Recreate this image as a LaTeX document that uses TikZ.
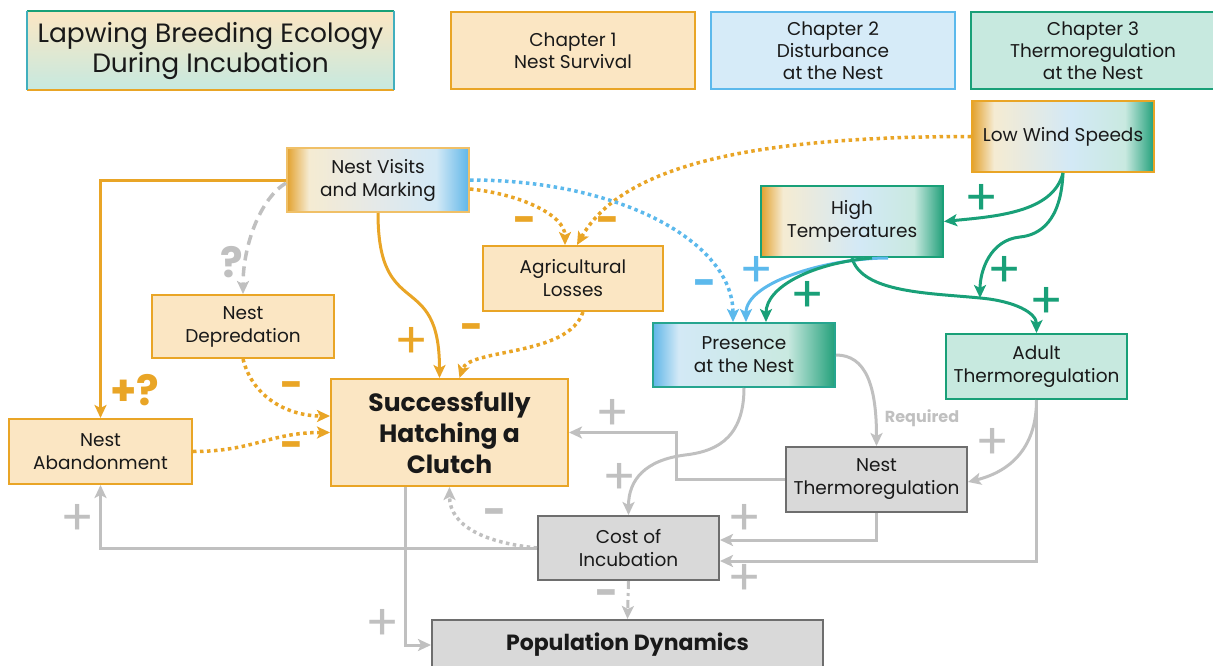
\documentclass[tikz,border=0pt]{standalone}
\usepackage{fontspec}
\setmainfont{Poppins}
\usetikzlibrary{arrows.meta,calc}
\definecolor{cO}{HTML}{E9A526}
\definecolor{cOl}{HTML}{FBE6C3}
\definecolor{cB}{HTML}{5CB9EC}
\definecolor{cBl}{HTML}{D6EBF8}
\definecolor{cG}{HTML}{19A078}
\definecolor{cGl}{HTML}{C7E9DF}
\definecolor{cGr}{HTML}{C0C0C0}
\definecolor{cGf}{HTML}{D9D9D9}
\definecolor{cGd}{HTML}{6E6E6E}
\definecolor{shO}{HTML}{E3A22F}
\definecolor{shCr}{HTML}{F5EBD2}
\definecolor{shMid}{HTML}{E4E9E9}
\definecolor{shLB}{HTML}{D3E9F6}
\definecolor{shB}{HTML}{5FB6E8}
\definecolor{shLG}{HTML}{C9E9E0}
\definecolor{shG}{HTML}{22A07A}
\pgfdeclarehorizontalshading{nvshade}{100bp}{color(0bp)=(shO); color(25bp)=(shO); color(31bp)=(shCr); color(50bp)=(shMid); color(66bp)=(shLB); color(75bp)=(shB); color(100bp)=(shB)}
\pgfdeclarehorizontalshading{lwshade}{100bp}{color(0bp)=(shO); color(25bp)=(shO); color(31bp)=(shCr); color(52bp)=(shLB); color(67bp)=(shLG); color(75bp)=(shG); color(100bp)=(shG)}
\pgfdeclarehorizontalshading{prshade}{100bp}{color(0bp)=(shB); color(25bp)=(shB); color(32bp)=(shLB); color(62bp)=(shLG); color(75bp)=(shG); color(100bp)=(shG)}
\begin{document}
\begin{tikzpicture}[x=1pt,y=-1pt,
  base/.style={line width=2pt, align=center, inner sep=0pt, text=black!90,
    font=\fontsize{18.5}{23}\selectfont},
  obox/.style={base, draw=cO, fill=cOl},
  gbox/.style={base, draw=cGd, fill=cGf},
  chap/.style={base, minimum width=244pt, minimum height=77pt, font=\fontsize{18.5}{22}\selectfont},
  arr/.style={-{Stealth[length=13pt,width=12pt,inset=3pt]}},
  oline/.style={cO, line width=3pt, arr},
  odot/.style={cO, line width=3.5pt, dash pattern=on 3.5pt off 3.5pt, arr},
  bdot/.style={cB, line width=3.5pt, dash pattern=on 3.5pt off 3.5pt, arr},
  bline/.style={cB, line width=3pt, arr},
  gline/.style={cG, line width=3pt, arr},
  grline/.style={cGr, line width=3pt, arr},
  grdot/.style={cGr, line width=3.5pt, dash pattern=on 3.5pt off 3.5pt, arr},
  grdash/.style={cGr, line width=3.5pt, dash pattern=on 10pt off 6pt, arr},
  grdashdot/.style={cGr, line width=3pt, dash pattern=on 8pt off 4pt on 3pt off 4pt, arr},
  plus/.style={font=\fontsize{50}{50}\selectfont, inner sep=0pt},
  minus/.style={font=\fontsize{40}{40}\selectfont\bfseries, inner sep=0pt},
  qmark/.style={font=\fontsize{42}{42}\selectfont\bfseries, inner sep=0pt},
]
\useasboundingbox (0,0) rectangle (1213,666);

% header boxes
\node[base, minimum width=365pt, minimum height=77pt, top color=cOl, middle color=cBl, bottom color=cGl,
  font=\fontsize{26.5}{30}\selectfont] (title) at (210.5,50.5) {Lapwing Breeding Ecology\\During Incubation};
\draw[cG, line width=2pt] (title.north west) -- (title.north east);
\draw[cO, line width=2pt] (title.south west) -- (title.south east);
\draw[cB!60!cG, line width=2pt] (title.north west) -- (title.south west);
\draw[cB!60!cG, line width=2pt] (title.north east) -- (title.south east);

\node[chap, draw=cO, fill=cOl] (ch1) at (573,50.5) {Chapter 1\\Nest Survival};
\node[chap, draw=cB, fill=cBl] (ch2) at (833,50.5) {Chapter 2\\Disturbance\\at the Nest};
\node[chap, draw=cG, fill=cGl] (ch3) at (1093,50.5) {Chapter 3\\Thermoregulation\\at the Nest};

% main nodes
\node[base, draw=cO!70!white, shading=nvshade, minimum width=182pt, minimum height=64pt] (nv) at (378,180) {Nest Visits\\and Marking};
\node[base, draw=cO, shading=lwshade, minimum width=182pt, minimum height=71pt] (lw) at (1063,136.5) {Low Wind Speeds};
\node[base, draw=cG, shading=lwshade, minimum width=182pt, minimum height=71pt] (ht) at (852,221.5) {High\\Temperatures};
\node[obox, minimum width=180pt, minimum height=65pt] (ag) at (573,278.5) {Agricultural\\Losses};
\node[obox, minimum width=182pt, minimum height=63pt] (nd) at (243,326.5) {Nest\\Depredation};
\node[base, draw=cG!80!cB, shading=prshade, minimum width=182pt, minimum height=64pt] (pr) at (744,355) {Presence\\at the Nest};
\node[base, draw=cG, fill=cGl, minimum width=181pt, minimum height=65pt] (at) at (1036.5,366.5) {Adult\\Thermoregulation};
\node[obox, minimum width=237pt, minimum height=107pt, font=\fontsize{25}{31}\selectfont\bfseries] (sh) at (449.5,432.5) {Successfully\\Hatching a\\Clutch};
\node[obox, minimum width=183pt, minimum height=65pt] (na) at (100.5,451.5) {Nest\\Abandonment};
\node[gbox, minimum width=181pt, minimum height=65pt] (nt) at (876.5,479.5) {Nest\\Thermoregulation};
\node[gbox, minimum width=181pt, minimum height=64pt] (ci) at (628.5,548) {Cost of\\Incubation};
\node[gbox, minimum width=391pt, minimum height=50pt, font=\fontsize{22}{25}\selectfont\bfseries] (pd) at (627.5,645) {Population Dynamics};

% point where Low Wind Speeds acts on the High Temperatures -> Adult link
\coordinate (mod) at (980,298);

% orange connectors
\draw[oline] (nv.west) -| (na.north);
\draw[grdash] ([yshift=-3pt]nv.west) .. controls +(-25,15) and +(0,-50) .. (nd.north);
\draw[oline] (nv.south) .. controls +(0,110) and +(0,-110) .. ([xshift=-10pt]sh.north);
\draw[odot] ([yshift=-9pt]nv.east) .. controls +(50,5) and +(0,-30) .. ([xshift=-8pt]ag.north);
\draw[odot] (lw.west) .. controls +(-250,0) and +(40,-70) .. ([xshift=4pt]ag.north);
\draw[bdot] (nv.east) .. controls +(150,0) and +(0,-80) .. ([xshift=-11pt]pr.north);
\draw[odot] ([xshift=10pt]ag.south) .. controls +(-15,45) and +(10,-30) .. ([xshift=10pt]sh.north);
\draw[odot] (nd.south) .. controls +(10,40) and +(-40,0) .. ([yshift=16.5pt]sh.west);
\draw[odot] (na.east) .. controls +(60,0) and +(-60,0) .. (sh.west);

% green / blue connectors
\draw[gline] (lw.south) .. controls +(-10,40) and +(50,-5) .. (ht.east);
\draw[gline] (lw.south) .. controls +(-2,48) and +(20,-2) .. (1020,237) .. controls +(-30,3) and +(0,-27) .. (mod);
\draw[gline] (ht.south) .. controls +(10,35) and +(-50,-5) .. (mod) .. controls +(35,3) and +(0,-20) .. (at.north);
\draw[bline] ([xshift=36pt]ht.south) .. controls +(-60,0) and +(0,-40) .. ([xshift=2pt]pr.north);
\draw[gline] ([xshift=20pt]ht.south) .. controls +(-60,5) and +(0,-35) .. ([xshift=22pt]pr.north);

% gray connectors
\draw[grline] (pr.east) .. controls +(30,0) and +(0,-60) .. (nt.north);
\draw[grline] (pr.south) .. controls +(0,55) and +(25,-3) .. (685,455) .. controls +(-40,5) and +(0,-35) .. (ci.north);
\draw[grline] (nt.west) -- ++(-109,0) |- (sh.east);
\draw[grline] (at.south) .. controls +(0,50) and +(40,-10) .. ([yshift=-2.5pt]nt.east);
\draw[grline] (nt.south) |- ([yshift=8pt]ci.east);
\draw[grline] (at.south) |- ([yshift=-13pt]ci.east);
\draw[grline] (ci.west) -| (na.south);
\draw[grdot] (ci.west) .. controls +(-50,-5) and +(0,40) .. (sh.south);
\draw[grline] ([xshift=-44.5pt]sh.south) |- (pd.west);
\draw[grdashdot] (ci.south) -- (pd.north);

% labels
\node[qmark, text=cO] (l1) at (135,390) {+?};
\node[qmark, text=cGr] (l2) at (232,262) {?};
\node[plus, text=cO] (l3) at (412,343) {+};
\node[minus, text=cO] (l4) at (525,225) {-};
\node[minus, text=cO] (l5) at (608,225) {-};
\node[minus, text=cB] (l6) at (705,288) {-};
\node[minus, text=cO] (l7) at (472,332) {-};
\node[minus, text=cO] (l8) at (292,390) {-};
\node[minus, text=cO] (l9) at (292,450) {-};
\node[plus, text=cG] (l10) at (982,200) {+};
\node[plus, text=cG] (l11) at (1005,272) {+};
\node[plus, text=cG] (l12) at (1047,303) {+};
\node[plus, text=cB] (l13) at (757,272) {+};
\node[plus, text=cG] (l14) at (808,297) {+};
\node[font=\fontsize{16}{18}\selectfont\bfseries, text=cGr, inner sep=0pt] (l15) at (922,418) {Required};
\node[plus, text=cGr] (l16) at (620,479) {+};
\node[plus, text=cGr] (l17) at (613,415) {+};
\node[plus, text=cGr] (l18) at (993,444) {+};
\node[plus, text=cGr] (l19) at (745,520) {+};
\node[plus, text=cGr] (l20) at (745,580) {+};
\node[plus, text=cGr] (l21) at (78,520) {+};
\node[minus, text=cGr] (l22) at (495,517) {-};
\node[plus, text=cGr] (l23) at (383,625) {+};
\node[minus, text=cGr] (l24) at (607,598) {-};
\end{tikzpicture}
\end{document}
